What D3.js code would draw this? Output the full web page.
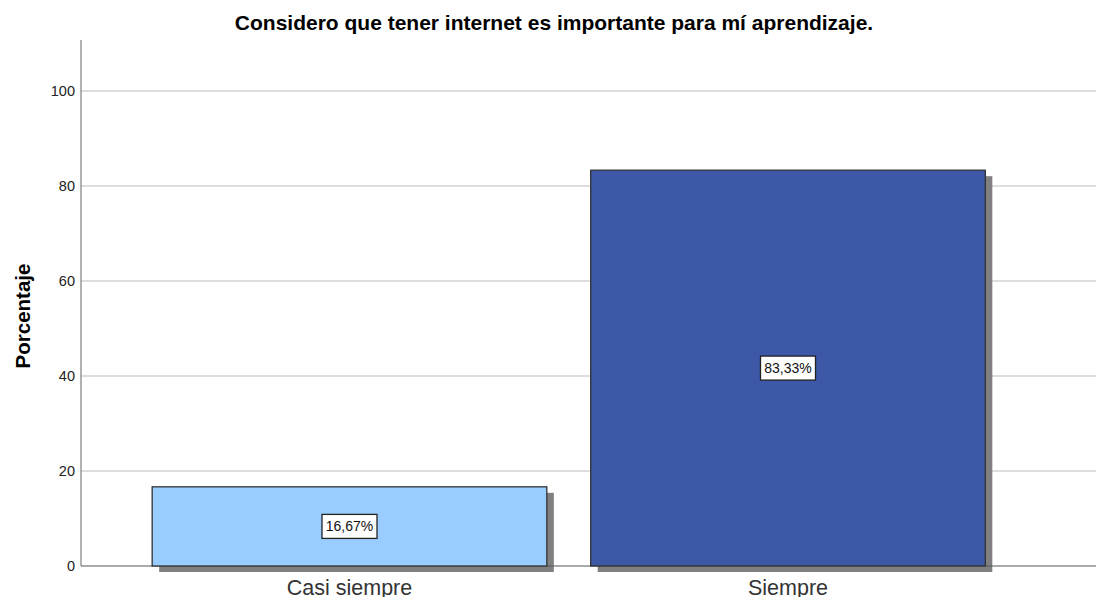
<!DOCTYPE html>
<html><head><meta charset="utf-8">
<script src="https://cdn.jsdelivr.net/npm/d3@7"></script>
<style>body{margin:0;background:#fff}svg{display:block}</style>
</head><body>
<svg id="c" width="1096" height="597"></svg>
<script>
const categories = ["Casi siempre", "Siempre"];
const values = [16.67, 83.33];
const labels = ["16,67%", "83,33%"];
const colors = ["#99ccff", "#3e58a8"];
const yTicks = [0, 20, 40, 60, 80, 100];
const title = "Considero que tener internet es importante para mí aprendizaje.";
const yTitle = "Porcentaje";

const FONT = "Arial, 'Liberation Sans', sans-serif";
const svg = d3.select("#c");
const x0 = 81, yBase = 566;
const y = d3.scaleLinear().domain([0, 100]).range([yBase, 91]);
const yTop = 40;
const x = d3.scaleBand().domain(categories).range([130.25, 1007.25]).paddingInner(0.1).paddingOuter(0.05);

// gridlines
svg.append("g").selectAll("line").data(yTicks.filter(d => d > 0)).join("line")
  .attr("x1", x0).attr("x2", 1096).attr("y1", d => y(d)).attr("y2", d => y(d))
  .attr("stroke", "#d2d2d2").attr("stroke-width", 1.3);

// y axis
const yAxis = d3.axisLeft(y).tickValues(yTicks).tickSize(0).tickPadding(6);
const ga = svg.append("g").attr("transform", `translate(${x0},0)`).call(yAxis);
ga.select(".domain").remove();
ga.selectAll("text").attr("font-family", FONT).attr("font-size", 14.5).attr("fill", "#222");
svg.append("line").attr("x1", x0).attr("x2", x0).attr("y1", yTop).attr("y2", yBase).attr("stroke", "#888").attr("stroke-width", 1.3);

// shadows
svg.append("g").selectAll("rect").data(values).join("rect")
  .attr("x", (d, i) => x(categories[i]) + 7).attr("y", d => y(d) + 6)
  .attr("width", x.bandwidth()).attr("height", d => yBase - y(d))
  .attr("fill", "#808080");

// baseline
svg.append("line").attr("x1", x0).attr("x2", 1096).attr("y1", yBase).attr("y2", yBase).attr("stroke", "#555").attr("stroke-width", 1);

// bars
svg.append("g").selectAll("rect").data(values).join("rect")
  .attr("x", (d, i) => x(categories[i])).attr("y", d => y(d))
  .attr("width", x.bandwidth()).attr("height", d => yBase - y(d))
  .attr("fill", (d, i) => colors[i]).attr("stroke", "#333").attr("stroke-width", 1.3);

// value labels
const lg = svg.append("g").selectAll("g").data(values).join("g")
  .attr("transform", (d, i) => `translate(${x(categories[i]) + x.bandwidth() / 2},${(y(d) + yBase) / 2})`);
lg.append("rect").attr("x", -27.5).attr("y", -12).attr("width", 55).attr("height", 24)
  .attr("fill", "#fff").attr("stroke", "#222").attr("stroke-width", 1.3);
lg.append("text").text((d, i) => labels[i]).attr("text-anchor", "middle").attr("dy", "0.36em")
  .attr("font-family", FONT).attr("font-size", 14).attr("fill", "#111");

// x labels
svg.append("g").selectAll("text").data(categories).join("text")
  .attr("x", d => x(d) + x.bandwidth() / 2).attr("y", 595).attr("text-anchor", "middle")
  .attr("font-family", FONT).attr("font-size", 21.5).attr("fill", "#333")
  .text(d => d);

// title
svg.append("text").attr("x", 554).attr("y", 29.5).attr("text-anchor", "middle")
  .attr("font-family", FONT).attr("font-size", 21).attr("font-weight", "bold").attr("fill", "#000")
  .text(title);

// y title
svg.append("text").attr("transform", "translate(30,316) rotate(-90)").attr("text-anchor", "middle")
  .attr("font-family", FONT).attr("font-size", 20.5).attr("font-weight", "bold").attr("fill", "#000")
  .text(yTitle);
</script>
</body></html>
